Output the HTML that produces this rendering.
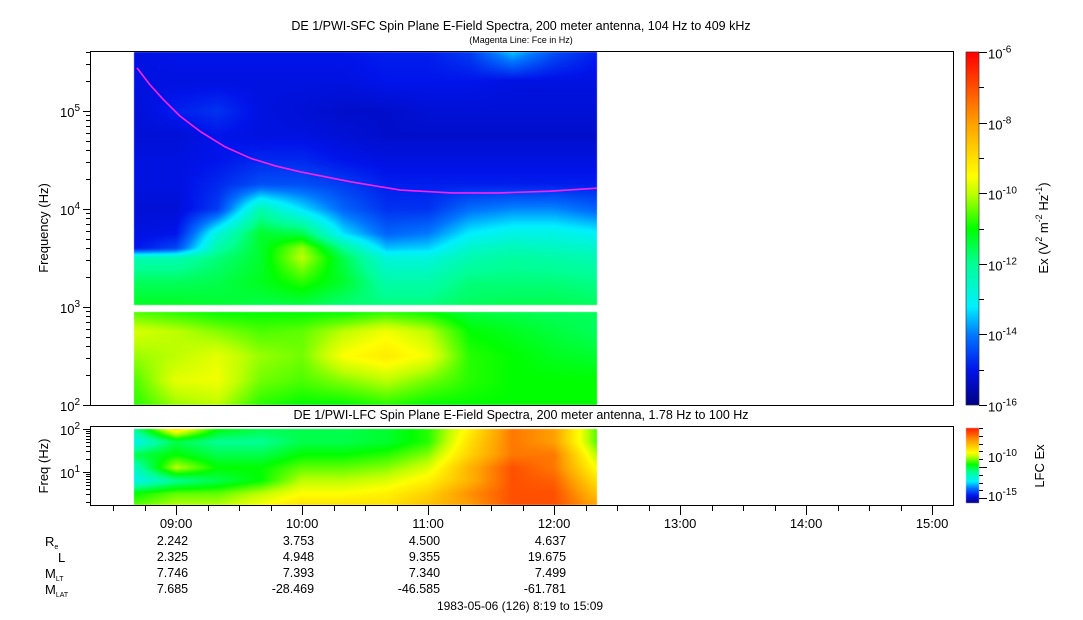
<!DOCTYPE html>
<html><head><meta charset="utf-8">
<style>
html,body{margin:0;padding:0;background:#fff;}
#wrap{position:relative;width:1083px;height:620px;overflow:hidden;font-family:"Liberation Sans",sans-serif;}
canvas{position:absolute;left:0;top:0;}
svg{position:absolute;left:0;top:0;}
text{font-family:"Liberation Sans",sans-serif;fill:#000;}
</style></head>
<body>
<div id="wrap">
<canvas id="cv" width="1083" height="620"></canvas>
<svg id="sv" width="1083" height="620"></svg>
</div>
<script>
// ---- data ----
const times = [8.67, 9.0, 9.33, 9.67, 10.0, 10.33, 10.67, 11.0, 11.33, 11.67, 12.0, 12.33];
const sfcLogF = [2.0, 2.25, 2.5, 2.75, 2.95, 3.0, 3.25, 3.5, 3.6, 3.75, 4.0, 4.25, 4.5, 4.75, 5.0, 5.3, 5.6];
const sfcPower = [
[-10.8,-10.2,-10,-10.8,-11,-11,-10.8,-11,-11,-11,-11,-11],
[-10.6,-9.7,-9.6,-10.4,-10.6,-10.3,-10,-10.4,-10.8,-11,-11,-11],
[-10.2,-10,-9.7,-10.2,-10.4,-9.5,-9.2,-9.6,-10.8,-11,-11.2,-11.3],
[-9.8,-10,-10.3,-10.6,-10.5,-10,-9.6,-10,-11,-11.2,-11.4,-11.6],
[-10.6,-10.8,-11,-11,-11,-11,-10.8,-11,-11.4,-11.5,-11.6,-11.6],
[-11.2,-11.2,-11.3,-11.5,-11.5,-11.8,-11.8,-11.8,-11.6,-11.5,-11.5,-11.6],
[-11.6,-11.6,-11.5,-11.2,-10.8,-11.3,-12.2,-12.2,-11.8,-11.8,-11.8,-11.9],
[-12.3,-12.3,-11.8,-11.3,-10,-11.5,-12.8,-12.8,-12.3,-12.1,-12.2,-12.3],
[-15,-14.5,-12.2,-11.3,-10.2,-12,-13.5,-13.4,-12.6,-12.4,-12.5,-12.6],
[-15.1,-15,-12.8,-11.3,-11.5,-13.3,-14.2,-14,-13.2,-12.9,-12.9,-13.1],
[-15.2,-15.2,-14.6,-12.3,-13.3,-14.2,-14.7,-14.7,-14.1,-13.9,-13.9,-14.2],
[-15.1,-15.1,-14.8,-14.4,-14.4,-14.6,-14.9,-14.9,-14.9,-14.9,-14.9,-14.9],
[-15.1,-15.1,-15,-14.8,-14.8,-15,-15.1,-15.1,-15.1,-15.1,-15.1,-15.1],
[-15.2,-15.2,-15,-15.1,-15.1,-15.2,-15.3,-15.3,-15.3,-15.3,-15.3,-15.3],
[-15.2,-14.9,-14.7,-15.1,-15.2,-15.3,-15.3,-15.2,-15.2,-15.2,-15.2,-15.2],
[-15.1,-15.1,-15.1,-15.1,-15.1,-15.1,-15,-15,-15,-15.1,-15.1,-15.1],
[-15.1,-15,-15,-15,-15,-15,-14.9,-14.9,-14.6,-13.5,-14.4,-14.9]
];
const lfcLogF = [0.2, 0.5, 0.8, 1.1, 1.4, 1.7, 2.0];
const lfcPower = [
[-10.5,-10,-10,-9.5,-9,-9,-9,-8.5,-8,-7,-7,-8],
[-11,-10.5,-10.5,-10,-9.5,-9.5,-9.3,-8.8,-7.8,-7,-7,-8.5],
[-13,-12,-11.5,-11,-10,-10,-9.8,-9.3,-8.3,-7,-7.2,-9],
[-12.5,-10,-11,-11,-10.5,-10.5,-10.3,-9.8,-8.3,-7,-7.5,-9.5],
[-11.5,-11,-11.5,-11.5,-11,-11,-10.8,-10.3,-8.8,-7.5,-7.5,-10],
[-13,-11.5,-12,-12,-11.5,-11.5,-11.3,-10.8,-9,-7.5,-8,-10.5],
[-12,-9,-11,-11.5,-11.5,-11.5,-11.3,-10.8,-9.3,-7.5,-8,-10.5]
];
const fceTimes = [8.69, 8.79, 8.896, 9.03, 9.19, 9.39, 9.59, 9.785, 9.98, 10.38, 10.78, 11.19, 11.57, 11.97, 12.34];
const fceHz = [275000, 187000, 132000, 89000, 62000, 43000, 33000, 27600, 24000, 19000, 15600, 14600, 14600, 15200, 16300];
const timeTickLabels = ["09:00","10:00","11:00","12:00","13:00","14:00","15:00"];
const timeTickHours = [9,10,11,12,13,14,15];
const reVals = ["2.242","3.753","4.500","4.637"];
const lVals = ["2.325","4.948","9.355","19.675"];
const mltVals = ["7.746","7.393","7.340","7.499"];
const mlatVals = ["7.685","-28.469","-46.585","-61.781"];

// ---- scales ----
const T0 = 8 + 19/60, PXH = 126, X0 = 90;
const xT = t => X0 + (t - T0) * PXH;
const yTop = lf => 405 - (lf - 2) * 98;
const yBot = lf => 429 + (2 - lf) * 43;

const stops = [[-16,[0,0,130]],[-15,[0,20,235]],[-14,[0,120,255]],[-13.2,[0,240,255]],[-12,[0,255,150]],[-11,[0,255,0]],[-10,[190,255,0]],[-9.5,[255,255,0]],[-8,[255,160,0]],[-6,[255,0,0]]];
function cmap(v){
  if(v<=stops[0][0]) return stops[0][1];
  for(let i=1;i<stops.length;i++){
    if(v<=stops[i][0]){const a=stops[i-1],b=stops[i],f=(v-a[0])/(b[0]-a[0]);
      return [0,1,2].map(k=>Math.round(a[1][k]+(b[1][k]-a[1][k])*f));}
  }
  return stops[stops.length-1][1];
}
function interp(xs, v){
  if(v<=xs[0]) return [0,0,0];
  if(v>=xs[xs.length-1]) return [xs.length-2,xs.length-1,1];
  for(let i=1;i<xs.length;i++) if(v<=xs[i]) return [i-1,i,(v-xs[i-1])/(xs[i]-xs[i-1])];
}
function sample(grid, fs, t, lf){
  const [r0,r1,fr]=interp(fs,lf), [c0,c1,fc]=interp(times,t);
  const a=grid[r0][c0]*(1-fc)+grid[r0][c1]*fc, b=grid[r1][c0]*(1-fc)+grid[r1][c1]*fc;
  return a*(1-fr)+b*fr;
}
const cv=document.getElementById('cv'), ctx=cv.getContext('2d');
const img=ctx.createImageData(1083,620), d=img.data;
function put(x,y,c){const i=(y*1083+x)*4;d[i]=c[0];d[i+1]=c[1];d[i+2]=c[2];d[i+3]=255;}
const xs=Math.round(xT(8.67))-1, xe=Math.round(xT(12.33))+1;
for(let x=xs;x<xe;x++){
  const t=T0+(x+0.5-X0)/PXH;
  for(let y=52;y<405;y++){
    if(y>=305&&y<312) continue;
    const lf=2+(405-y-0.5)/98;
    put(x,y,cmap(sample(sfcPower,sfcLogF,t,lf)));
  }
  for(let y=429;y<505;y++){
    const lf=2-(y+0.5-429)/43;
    put(x,y,cmap(sample(lfcPower,lfcLogF,t,lf)));
  }
}
for(let y=52;y<405;y++){const v=-6-(y-52)/(405-52)*10;const c=cmap(v);for(let x=966;x<979;x++)put(x,y,c);}
for(let y=428;y<503;y++){const v=-6.4-(y-428)/(503-428)*9.6;const c=cmap(v);for(let x=966;x<979;x++)put(x,y,c);}
ctx.putImageData(img,0,0);

// ---- SVG axes ----
const NS='http://www.w3.org/2000/svg', sv=document.getElementById('sv');
function el(tag,attrs,parent){const e=document.createElementNS(NS,tag);for(const k in attrs)e.setAttribute(k,attrs[k]);(parent||sv).appendChild(e);return e;}
function txt(x,y,s,size,anchor,name){const e=el('text',{x:x,y:y,'font-size':size,'text-anchor':anchor||'middle'});e.textContent=s;


return e;}
function pow10(x,y,exp,name,anchor){const e=el('text',{x:x,y:y,'font-size':13,'text-anchor':anchor||'end'});
const a=el('tspan',{},e);a.textContent='10';const b=el('tspan',{dy:-6,'font-size':10},e);b.textContent=exp;


return e;}

let pts=fceTimes.map((t,i)=>xT(t).toFixed(1)+','+yTop(Math.log10(fceHz[i])).toFixed(1)).join(' ');
const fl=el('polyline',{points:pts,fill:'none',stroke:'#ff20ff','stroke-width':1.6,'stroke-linejoin':'round'});



const f1=el('rect',{x:90.5,y:51.5,width:863,height:354,fill:'none',stroke:'#000'});


const f2=el('rect',{x:90.5,y:426.5,width:863,height:79,fill:'none',stroke:'#000'});



for(let dec=2;dec<=5;dec++){
  for(let m=1;m<=9;m++){
    const lf=dec+Math.log10(m); if(lf>5.62) break;
    const y=Math.round(yTop(lf))+0.5;
    el('line',{x1:m==1?83:86,x2:90,y1:y,y2:y,stroke:'#000'});
  }
  pow10(80,yTop(dec)+6,String(dec),'y-tick-label-1e'+dec);
}
for(let dec=0;dec<=2;dec++){
  for(let m=1;m<=9;m++){
    const lf=dec+Math.log10(m); if(lf<0.2||lf>2) continue;
    const y=Math.round(yBot(lf))+0.5;
    el('line',{x1:m==1?83:86,x2:90,y1:y,y2:y,stroke:'#000'});
  }
}
pow10(80,yBot(2)+6,'2','lfc-y-tick-label-1e2');
pow10(80,yBot(1)+6,'1','lfc-y-tick-label-1e1');

for(let t=8.5;t<=15.1;t+=0.25){
  const x=Math.round(xT(t))+0.5, major=Math.abs(t-Math.round(t))<0.01;
  el('line',{x1:x,x2:x,y1:506,y2:major?515:511,stroke:'#000'});
}
timeTickHours.forEach((h,i)=>txt(xT(h),528,timeTickLabels[i],13,'middle','x-tick-label-'+h));
[reVals,lVals,mltVals,mlatVals].forEach((arr,r)=>arr.forEach((v,i)=>{
  txt(xT(9+i)+12,545+r*16,v,12.5,'end','ephemeris-'+['re','l','mlt','mlat'][r]+'-'+i);
}));
(function(){
 const rows=[['R','e'],['L',''],['M','LT'],['M','LAT']];
 rows.forEach((r,i)=>{const e=el('text',{x:r[1]?45:58,y:546+i*16,'font-size':13,'text-anchor':'start'});
  const a=el('tspan',{},e);a.textContent=r[0];
  if(r[1]){const b=el('tspan',{dy:3,'font-size':7},e);b.textContent=r[1];}
  
  
 });
})();
txt(520,610,'1983-05-06 (126) 8:19 to 15:09',12,'middle','date-range-label');

txt(521,30,'DE 1/PWI-SFC  Spin Plane E-Field Spectra, 200 meter antenna, 104 Hz to 409 kHz',12.5,'middle','sfc-title');
txt(521,43,'(Magenta Line: Fce in Hz)',9,'middle','sfc-subtitle');
txt(521,419,'DE 1/PWI-LFC  Spin Plane E-Field Spectra, 200 meter antenna, 1.78 Hz to 100 Hz',12.5,'middle','lfc-title');
const yl=txt(0,0,'Frequency (Hz)',13,'middle','sfc-y-axis-title');yl.setAttribute('transform','translate(48,228) rotate(-90)');
const yl2=txt(0,0,'Freq (Hz)',13,'middle','lfc-y-axis-title');yl2.setAttribute('transform','translate(48,466) rotate(-90)');

el('rect',{x:966,y:52,width:13,height:353,fill:'none',stroke:'#000','stroke-width':0.5});
for(let k=0;k<=10;k++){const y=Math.round(52+k*35.3)+0.5;el('line',{x1:979,x2:k%2==0?987:984,y1:y,y2:y,stroke:'#000'});
 if(k%2==0) pow10(988,y+6,String(-6-k),'colorbar-tick-1e'+(-6-k),'start');}
for(let k=0;k<=9;k++){const y=Math.round(428+k*7.8)+0.5;el('line',{x1:979,x2:(k==5||k==9)?987:983,y1:y,y2:y,stroke:'#000'});}
pow10(988,462,'-10','lfc-colorbar-tick-1e-10','start');
pow10(988,501,'-15','lfc-colorbar-tick-1e-15','start');
(function(){const e=el('text',{'font-size':13,'text-anchor':'middle',transform:'translate(1048,228) rotate(-90)'});
 const parts=[['Ex (V',0,13],['2',-6,9],[' m',6,13],['-2',-6,9],[' Hz',6,13],['-1',-6,9],[')',6,13]];
 parts.forEach(p=>{const s=el('tspan',{dy:p[1],'font-size':p[2]},e);s.textContent=p[0];});
 
 })();
const cl=txt(0,0,'LFC Ex',13,'middle','lfc-colorbar-title');cl.setAttribute('transform','translate(1044,466) rotate(-90)');
</script>
</body></html>
